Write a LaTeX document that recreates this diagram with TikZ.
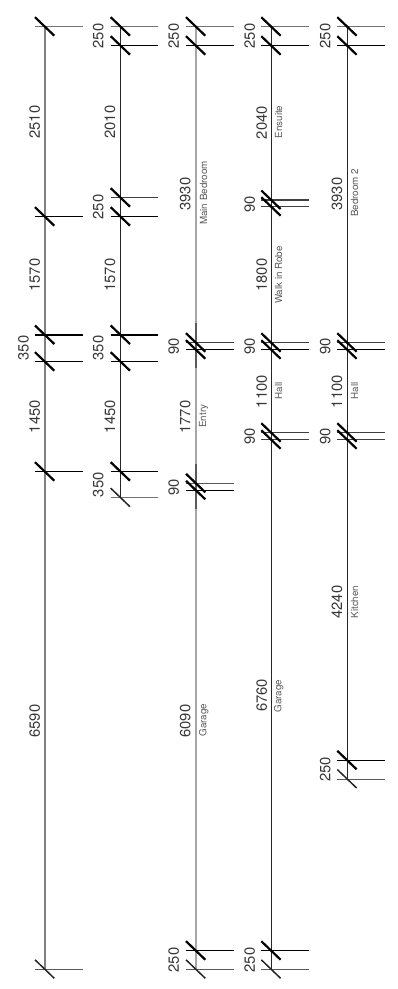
\documentclass[tikz,border=0pt]{standalone}
\usepackage{fontspec}
\setmainfont{TeX Gyre Heros}
\usetikzlibrary{calc}
\definecolor{dimtext}{HTML}{383838}
\definecolor{roomtext}{HTML}{5A5A5A}

\begin{document}
\begin{tikzpicture}[
  x=1pt, y=-1pt,
  size/.style={rotate=90, text=dimtext, font=\fontsize{14.8}{14.8}\selectfont, inner sep=0pt},
  room/.style={rotate=90, text=roomtext, font=\fontsize{9.8}{9.8}\selectfont, inner sep=0pt},
  slash/.style={line width=2.2pt, black},
  slash_thin/.style={line width=1.5pt, black!85},
  ext/.style={line width=1.2pt, black},
  ext_dark/.style={line width=1.5pt, black!75},
  ext_gray/.style={line width=1.5pt, black!55},
  ext_thin/.style={line width=1pt, black!65},
  run_gray/.style={line width=1.7pt, black!50},
  run_pale/.style={line width=1.5pt, black!35},
  run_dark/.style={line width=1pt, black!85},
  run_over/.style={line width=1.5pt, black!65}
]
    \useasboundingbox (0,0) rectangle (398,989);

    % First string
    \coordinate (a1) at (45,26.7);
    \coordinate (a2) at (45,216.7);
    \coordinate (a3) at (45,335);
    \coordinate (a4) at (45,361.7);
    \coordinate (a5) at (45,471.7);
    \coordinate (a6) at (45,969.3);
    \draw[run_gray] (a1) -- (a6);
    \draw[ext_gray] ($(a1)+(-10,0)$) -- ($(a1)+(37.7,0)$);
    \draw[ext] ($(a2)+(-10,0)$) -- ($(a2)+(37.7,0)$);
    \draw[ext] ($(a3)+(-10,0)$) -- ($(a3)+(37.7,0)$);
    \draw[ext] ($(a4)+(-10,0)$) -- ($(a4)+(37.7,0)$);
    \draw[ext] ($(a5)+(-10,0)$) -- ($(a5)+(37.7,0)$);
    \draw[ext_thin] ($(a6)+(-10,0)$) -- ($(a6)+(37.7,0)$);
    \draw[slash] ($(a1)+(-10,-9.5)$) -- ($(a1)+(9.3,9)$);
    \draw[slash] ($(a2)+(-10,-9.5)$) -- ($(a2)+(9.3,9)$);
    \draw[slash] ($(a3)+(-10,-9.5)$) -- ($(a3)+(9.3,9)$);
    \draw[slash] ($(a4)+(-10,-9.5)$) -- ($(a4)+(9.3,9)$);
    \draw[slash] ($(a5)+(-10,-9.5)$) -- ($(a5)+(9.3,9)$);
    \draw[slash_thin] ($(a6)+(-10,-9.5)$) -- ($(a6)+(9.3,9)$);
    \node[size] (a_w1) at (34.7,122) {2510};
    \node[size] (a_w2) at (34.7,275) {1570};
    \node[size] (a_w3) at (23.5,348) {350};
    \node[size] (a_w4) at (34.7,416.7) {1450};
    \node[size] (a_w5) at (34.7,721) {6590};

    % Second string
    \coordinate (b1) at (120.7,26.7);
    \coordinate (b2) at (120.7,45.7);
    \coordinate (b3) at (120.7,197.7);
    \coordinate (b4) at (120.7,216.7);
    \coordinate (b5) at (120.7,335);
    \coordinate (b6) at (120.7,361.7);
    \coordinate (b7) at (120.7,471.7);
    \coordinate (b8) at (120.7,497.7);
    \draw[run_dark] (b1) -- (b8);
    \draw[ext_gray] ($(b1)+(-10,0)$) -- ($(b1)+(37.7,0)$);
    \draw[ext] ($(b2)+(-10,0)$) -- ($(b2)+(37.7,0)$);
    \draw[ext_dark] ($(b3)+(-10,0)$) -- ($(b3)+(37.7,0)$);
    \draw[ext] ($(b4)+(-10,0)$) -- ($(b4)+(37.7,0)$);
    \draw[ext] ($(b5)+(-10,0)$) -- ($(b5)+(37.7,0)$);
    \draw[ext] ($(b6)+(-10,0)$) -- ($(b6)+(37.7,0)$);
    \draw[ext] ($(b7)+(-10,0)$) -- ($(b7)+(37.7,0)$);
    \draw[ext_gray] ($(b8)+(-10,0)$) -- ($(b8)+(37.7,0)$);
    \draw[slash] ($(b1)+(-10,-9.5)$) -- ($(b1)+(9.3,9)$);
    \draw[slash] ($(b2)+(-10,-9.5)$) -- ($(b2)+(9.3,9)$);
    \draw[slash] ($(b3)+(-10,-9.5)$) -- ($(b3)+(9.3,9)$);
    \draw[slash] ($(b4)+(-10,-9.5)$) -- ($(b4)+(9.3,9)$);
    \draw[slash] ($(b5)+(-10,-9.5)$) -- ($(b5)+(9.3,9)$);
    \draw[slash] ($(b6)+(-10,-9.5)$) -- ($(b6)+(9.3,9)$);
    \draw[slash] ($(b7)+(-10,-9.5)$) -- ($(b7)+(9.3,9)$);
    \draw[slash_thin] ($(b8)+(-10,-9.5)$) -- ($(b8)+(9.3,9)$);
    \node[size] (b_w1) at (98.3,36) {250};
    \node[size] (b_w2) at (110,122) {2010};
    \node[size] (b_w3) at (98.3,207) {250};
    \node[size] (b_w4) at (110,275) {1570};
    \node[size] (b_w5) at (98.3,348) {350};
    \node[size] (b_w6) at (110,416.7) {1450};
    \node[size] (b_w7) at (98.3,484.7) {350};

    % Third string
    \coordinate (c1) at (196,26.7);
    \coordinate (c2) at (196,45.7);
    \coordinate (c3) at (196,342.7);
    \coordinate (c4) at (196,349.7);
    \coordinate (c5) at (196,483.3);
    \coordinate (c6) at (196,490.3);
    \coordinate (c7) at (196,950.7);
    \coordinate (c8) at (196,969.3);
    \coordinate (c_o1) at (196,323);
    \coordinate (c_o2) at (196,368);
    \coordinate (c_o3) at (196,464);
    \coordinate (c_o4) at (196,509);
    \draw[run_pale] (c1) -- (c8);
    \draw[run_over] (c_o1) -- (c_o2);
    \draw[run_over] (c_o3) -- (c_o4);
    \draw[ext_gray] ($(c1)+(-10,0)$) -- ($(c1)+(37.7,0)$);
    \draw[ext] ($(c2)+(-10,0)$) -- ($(c2)+(37.7,0)$);
    \draw[ext_dark] ($(c3)+(-10,0)$) -- ($(c3)+(37.7,0)$);
    \draw[ext] ($(c4)+(-10,0)$) -- ($(c4)+(37.7,0)$);
    \draw[ext_thin] ($(c5)+(-10,0)$) -- ($(c5)+(37.7,0)$);
    \draw[ext] ($(c6)+(-10,0)$) -- ($(c6)+(37.7,0)$);
    \draw[ext] ($(c7)+(-10,0)$) -- ($(c7)+(37.7,0)$);
    \draw[ext_thin] ($(c8)+(-10,0)$) -- ($(c8)+(37.7,0)$);
    \draw[slash] ($(c1)+(-10,-9.5)$) -- ($(c1)+(9.3,9)$);
    \draw[slash] ($(c2)+(-10,-9.5)$) -- ($(c2)+(9.3,9)$);
    \draw[slash] ($(c3)+(-10,-9.5)$) -- ($(c3)+(9.3,9)$);
    \draw[slash] ($(c4)+(-10,-9.5)$) -- ($(c4)+(9.3,9)$);
    \draw[slash] ($(c5)+(-10,-9.5)$) -- ($(c5)+(9.3,9)$);
    \draw[slash] ($(c6)+(-10,-9.5)$) -- ($(c6)+(9.3,9)$);
    \draw[slash] ($(c7)+(-10,-9.5)$) -- ($(c7)+(9.3,9)$);
    \draw[slash_thin] ($(c8)+(-10,-9.5)$) -- ($(c8)+(9.3,9)$);
    \node[size] (c_w1) at (173.7,36) {250};
    \node[size] (c_w2) at (185.3,194) {3930};
    \node[room] (c_r1) at (203.7,193) {Main Bedroom};
    \node[size] (c_w3) at (173.7,346) {90};
    \node[size] (c_w4) at (185.3,417) {1770};
    \node[room] (c_r2) at (203.7,416) {Entry};
    \node[size] (c_w5) at (173.7,487) {90};
    \node[size] (c_w6) at (185.3,721) {6090};
    \node[room] (c_r3) at (203.7,720) {Garage};
    \node[size] (c_w7) at (173.7,960) {250};

    % Fourth string
    \coordinate (d1) at (271.3,26.7);
    \coordinate (d2) at (271.3,45.7);
    \coordinate (d3) at (271.3,200);
    \coordinate (d4) at (271.3,206.7);
    \coordinate (d5) at (271.3,342.7);
    \coordinate (d6) at (271.3,349.7);
    \coordinate (d7) at (271.3,432.7);
    \coordinate (d8) at (271.3,439.7);
    \coordinate (d9) at (271.3,950.7);
    \coordinate (d10) at (271.3,969.3);
    \draw[run_dark] (d1) -- (d10);
    \draw[ext_gray] ($(d1)+(-10,0)$) -- ($(d1)+(37.7,0)$);
    \draw[ext] ($(d2)+(-10,0)$) -- ($(d2)+(37.7,0)$);
    \draw[ext_dark] ($(d3)+(-10,0)$) -- ($(d3)+(37.7,0)$);
    \draw[ext_dark] ($(d4)+(-10,0)$) -- ($(d4)+(37.7,0)$);
    \draw[ext_dark] ($(d5)+(-10,0)$) -- ($(d5)+(37.7,0)$);
    \draw[ext] ($(d6)+(-10,0)$) -- ($(d6)+(37.7,0)$);
    \draw[ext_dark] ($(d7)+(-10,0)$) -- ($(d7)+(37.7,0)$);
    \draw[ext_dark] ($(d8)+(-10,0)$) -- ($(d8)+(37.7,0)$);
    \draw[ext] ($(d9)+(-10,0)$) -- ($(d9)+(37.7,0)$);
    \draw[ext_thin] ($(d10)+(-10,0)$) -- ($(d10)+(37.7,0)$);
    \draw[slash] ($(d1)+(-10,-9.5)$) -- ($(d1)+(9.3,9)$);
    \draw[slash] ($(d2)+(-10,-9.5)$) -- ($(d2)+(9.3,9)$);
    \draw[slash] ($(d3)+(-10,-9.5)$) -- ($(d3)+(9.3,9)$);
    \draw[slash] ($(d4)+(-10,-9.5)$) -- ($(d4)+(9.3,9)$);
    \draw[slash] ($(d5)+(-10,-9.5)$) -- ($(d5)+(9.3,9)$);
    \draw[slash] ($(d6)+(-10,-9.5)$) -- ($(d6)+(9.3,9)$);
    \draw[slash] ($(d7)+(-10,-9.5)$) -- ($(d7)+(9.3,9)$);
    \draw[slash] ($(d8)+(-10,-9.5)$) -- ($(d8)+(9.3,9)$);
    \draw[slash] ($(d9)+(-10,-9.5)$) -- ($(d9)+(9.3,9)$);
    \draw[slash_thin] ($(d10)+(-10,-9.5)$) -- ($(d10)+(9.3,9)$);
    \node[size] (d_w1) at (249.7,36) {250};
    \node[size] (d_w2) at (261.7,122.7) {2040};
    \node[room] (d_r1) at (278.7,122) {Ensuite};
    \node[size] (d_w3) at (249.7,204) {90};
    \node[size] (d_w4) at (261.7,275) {1800};
    \node[room] (d_r2) at (278.7,275) {Walk in Robe};
    \node[size] (d_w5) at (249.7,346) {90};
    \node[size] (d_w6) at (261.7,391.7) {1100};
    \node[room] (d_r3) at (278.7,390.7) {Hall};
    \node[size] (d_w7) at (249.7,436) {90};
    \node[size] (d_w8) at (261.7,695.5) {6760};
    \node[room] (d_r4) at (278.7,696) {Garage};
    \node[size] (d_w9) at (249.7,960) {250};

    % Fifth string
    \coordinate (e1) at (347.3,26.7);
    \coordinate (e2) at (347.3,45.7);
    \coordinate (e3) at (347.3,342.7);
    \coordinate (e4) at (347.3,349.7);
    \coordinate (e5) at (347.3,432.7);
    \coordinate (e6) at (347.3,439.7);
    \coordinate (e7) at (347.3,760.3);
    \coordinate (e8) at (347.3,779);
    \draw[run_dark] (e1) -- (e8);
    \draw[ext_gray] ($(e1)+(-10,0)$) -- ($(e1)+(37.7,0)$);
    \draw[ext] ($(e2)+(-10,0)$) -- ($(e2)+(37.7,0)$);
    \draw[ext_dark] ($(e3)+(-10,0)$) -- ($(e3)+(37.7,0)$);
    \draw[ext] ($(e4)+(-10,0)$) -- ($(e4)+(37.7,0)$);
    \draw[ext_dark] ($(e5)+(-10,0)$) -- ($(e5)+(37.7,0)$);
    \draw[ext_dark] ($(e6)+(-10,0)$) -- ($(e6)+(37.7,0)$);
    \draw[ext] ($(e7)+(-10,0)$) -- ($(e7)+(37.7,0)$);
    \draw[ext_thin] ($(e8)+(-10,0)$) -- ($(e8)+(37.7,0)$);
    \draw[slash] ($(e1)+(-10,-9.5)$) -- ($(e1)+(9.3,9)$);
    \draw[slash] ($(e2)+(-10,-9.5)$) -- ($(e2)+(9.3,9)$);
    \draw[slash] ($(e3)+(-10,-9.5)$) -- ($(e3)+(9.3,9)$);
    \draw[slash] ($(e4)+(-10,-9.5)$) -- ($(e4)+(9.3,9)$);
    \draw[slash] ($(e5)+(-10,-9.5)$) -- ($(e5)+(9.3,9)$);
    \draw[slash] ($(e6)+(-10,-9.5)$) -- ($(e6)+(9.3,9)$);
    \draw[slash] ($(e7)+(-10,-9.5)$) -- ($(e7)+(9.3,9)$);
    \draw[slash_thin] ($(e8)+(-10,-9.5)$) -- ($(e8)+(9.3,9)$);
    \node[size] (e_w1) at (325.3,36) {250};
    \node[size] (e_w2) at (337,194) {3930};
    \node[room] (e_r1) at (354.7,193) {Bedroom 2};
    \node[size] (e_w3) at (325.3,346) {90};
    \node[size] (e_w4) at (337,391.7) {1100};
    \node[room] (e_r2) at (354.7,390.7) {Hall};
    \node[size] (e_w5) at (325.3,436) {90};
    \node[size] (e_w6) at (337,602) {4240};
    \node[room] (e_r3) at (354.7,602) {Kitchen};
    \node[size] (e_w7) at (325.3,769.3) {250};

\end{tikzpicture}
\end{document}
